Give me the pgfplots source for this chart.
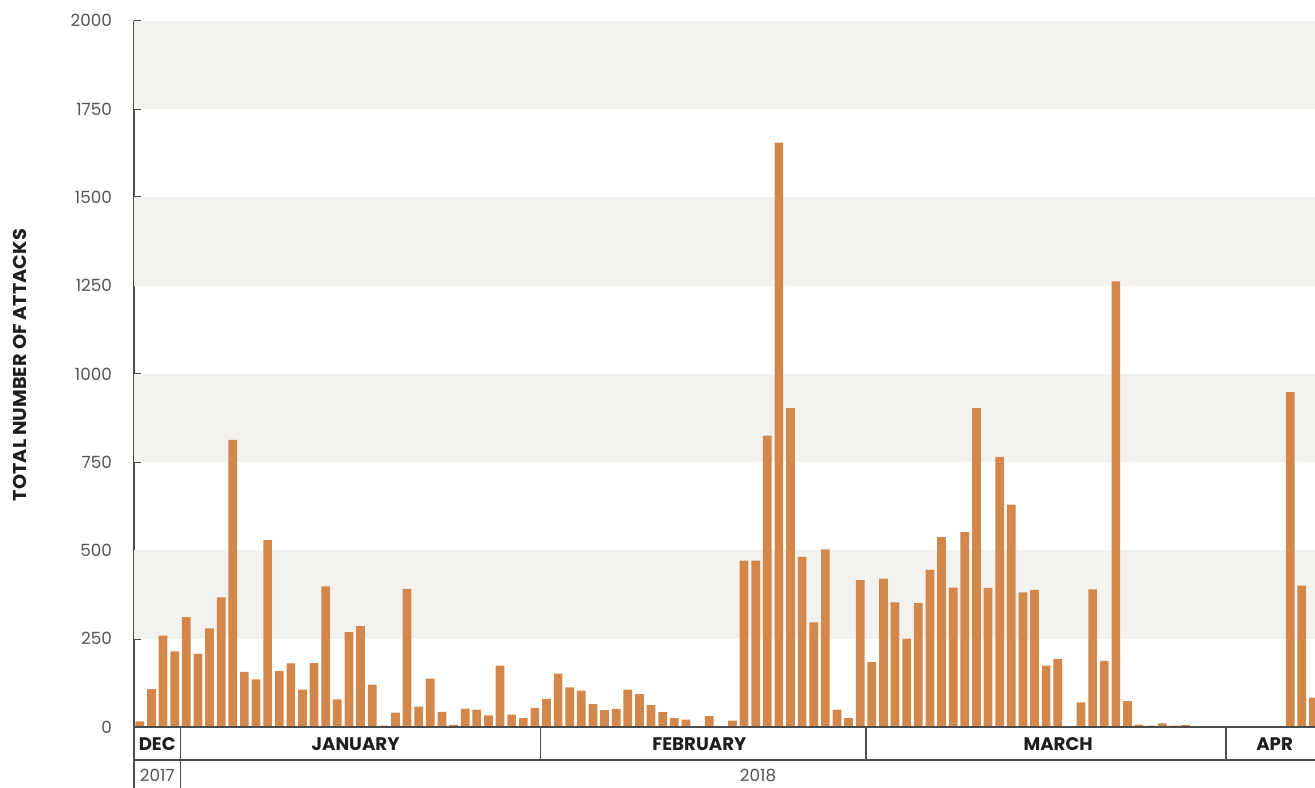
\documentclass[border=0pt]{standalone}
\usepackage{fontspec}
\setmainfont{Poppins}
\usepackage{pgfplots}
\pgfplotsset{compat=1.18}
\usepackage{pgfplotstable}
\usetikzlibrary{calc}
\definecolor{barc}{HTML}{D4874B}
\definecolor{band}{HTML}{F3F2EF}
\definecolor{linec}{HTML}{4D4D4D}
\definecolor{tickc}{HTML}{555555}
\definecolor{monthc}{HTML}{1E1E1E}
\pgfplotstableread{
i v
0 16
1 107
2 259
3 214
4 311
5 207
6 279
7 367
8 813
9 156
10 135
11 529
12 158
13 180
14 106
15 181
16 398
17 78
18 269
19 286
20 120
21 4
22 41
23 391
24 58
25 137
26 43
27 6
28 52
29 49
30 33
31 174
32 35
33 25
34 54
35 80
36 151
37 112
38 103
39 65
40 48
41 51
42 106
43 93
44 62
45 42
46 25
47 21
48 0
49 31
50 0
51 18
52 471
53 471
54 825
55 1655
56 903
57 482
58 296
59 503
60 49
61 25
62 416
63 184
64 420
65 353
66 250
67 351
68 445
69 538
70 395
71 552
72 903
73 394
74 765
75 630
76 381
77 388
78 174
79 193
80 0
81 70
82 390
83 187
84 1262
85 73
86 7
87 4
88 10
89 4
90 5
91 0
92 0
93 0
94 0
95 0
96 0
97 0
98 0
99 948
100 400
101 83
}\attacks
\begin{document}
\begin{tikzpicture}
\begin{axis}[
  at={(0,0)}, anchor=south west,
  scale only axis,
  width=590.5pt, height=353.15pt,
  xmin=-0.5, xmax=101.14,
  ymin=0, ymax=2000,
  axis lines*=left,
  axis line style={linec, line width=0.8pt},
  xtick=\empty,
  ytick={0,250,500,750,1000,1250,1500,1750,2000},
  tick align=inside,
  major tick length=3.5pt,
  tick style={linec, line width=0.8pt},
  yticklabel style={font=\fontsize{8.4}{9}\selectfont, text=tickc, xshift=-7.5pt},
  /pgf/number format/assume math mode=true,
  /pgf/number format/1000 sep={},
  ybar, bar width=0.75,
  clip=true,
]
\fill[band] (axis cs:-0.5,250) rectangle (axis cs:101.14,500);
\fill[band] (axis cs:-0.5,750) rectangle (axis cs:101.14,1000);
\fill[band] (axis cs:-0.5,1250) rectangle (axis cs:101.14,1500);
\fill[band] (axis cs:-0.5,1750) rectangle (axis cs:101.14,2000);
\addplot[fill=barc, draw=none] table[x=i, y=v] {\attacks};
\coordinate (L) at (axis cs:-0.5,0);
\coordinate (b1) at (axis cs:3.5,0);
\coordinate (b2) at (axis cs:34.5,0);
\coordinate (b3) at (axis cs:62.5,0);
\coordinate (b4) at (axis cs:93.5,0);
\coordinate (R) at (axis cs:101.14,0);
\end{axis}
\draw[linec, line width=0.8pt] (0,0) -- (590.5pt,0);
\draw[linec, line width=0.8pt] (0,-16.5pt) -- (590.5pt,-16.5pt);
\draw[linec, line width=0.8pt] (L) -- ++(0,-31pt);
\draw[linec, line width=0.8pt] (b1) -- ++(0,-31pt);
\draw[linec, line width=0.8pt] (b2) -- ++(0,-16.5pt);
\draw[linec, line width=0.8pt] (b3) -- ++(0,-16.5pt);
\draw[linec, line width=0.8pt] (b4) -- ++(0,-16.5pt);
\begin{scope}[every node/.style={font=\fontsize{9.1}{10}\selectfont\bfseries, text=monthc, inner sep=0pt}]
\node at ($ (L)!0.5!(b1) + (0,-8.4pt) $) {DEC};
\node at ($ (b1)!0.5!(b2) + (-2.5pt,-8.4pt) $) {JANUARY};
\node at ($ (b2)!0.5!(b3) + (-2pt,-8.4pt) $) {FEBRUARY};
\node at ($ (b3)!0.5!(b4) + (6pt,-8.4pt) $) {MARCH};
\node at ($ (b4)!0.5!(R) + (2pt,-8.4pt) $) {APR};
\end{scope}
\node[font=\fontsize{8.4}{9}\selectfont, text=tickc, inner sep=0pt] at ($ (L)!0.5!(b1) + (0,-24pt) $) {2017};
\node[font=\fontsize{8.4}{9}\selectfont, text=tickc, inner sep=0pt] at (312pt,-24pt) {2018};
\node[rotate=90, inner sep=0pt, text=monthc] at (-57pt,181pt) {\resizebox{136pt}{6.6pt}{\bfseries TOTAL NUMBER OF ATTACKS}};
\pgfresetboundingbox
\path[use as bounding box] (-67pt,-30pt) rectangle (590.5pt,363.5pt);
\end{tikzpicture}
\end{document}
